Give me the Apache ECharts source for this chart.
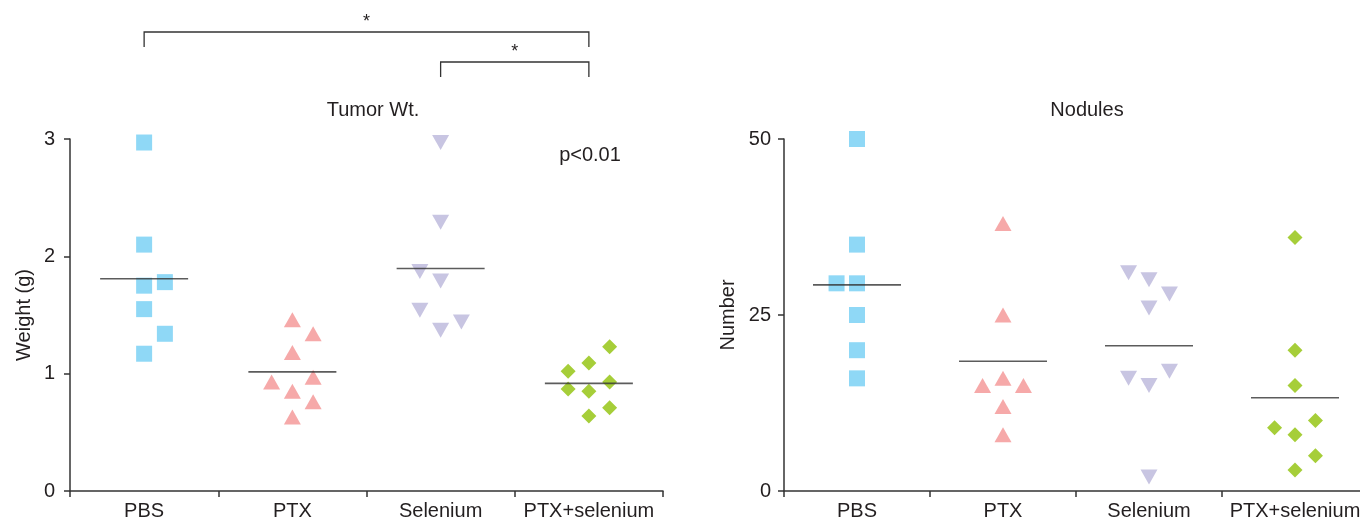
<!DOCTYPE html>
<html>
<head>
<meta charset="utf-8">
<script src="https://cdn.jsdelivr.net/npm/echarts@6/dist/echarts.min.js"></script>
<style>
  html, body { margin: 0; padding: 0; background: #fff; }
  #app { width: 1360px; height: 522px; }
</style>
</head>
<body>
<div id="app"></div>
<script>
// groups on the x axis
const groups = ["PBS", "PTX", "Selenium", "PTX+selenium"];

// [jitter column, value]  -- column -1 / 0 / 1 is the little side shift inside a group
const tumorPBS = [[0, 2.97], [0, 2.10], [0, 1.75], [1, 1.78], [0, 1.55], [1, 1.34], [0, 1.17]];
const tumorPTX = [[0, 1.46], [1, 1.34], [0, 1.18], [-1, 0.93], [1, 0.97], [0, 0.85], [1, 0.76], [0, 0.63]];
const tumorSe = [[0, 2.97], [0, 2.29], [-1, 1.87], [0, 1.79], [-1, 1.54], [1, 1.44], [0, 1.37]];
const tumorCombo = [[1, 1.23], [0, 1.09], [-1, 1.02], [1, 0.93], [-1, 0.87], [0, 0.85], [1, 0.71], [0, 0.64]];

const nodPBS = [[0, 50], [0, 35], [-1, 29.5], [0, 29.5], [0, 25], [0, 20], [0, 16]];
const nodPTX = [[0, 38], [0, 25], [-1, 15], [0, 16], [1, 15], [0, 12], [0, 8]];
const nodSe = [[-1, 31], [0, 30], [1, 28], [0, 26], [-1, 16], [1, 17], [0, 15], [0, 2]];
const nodCombo = [[0, 36], [0, 20], [0, 15], [1, 10], [-1, 9], [0, 8], [1, 5], [0, 3]];

const tumorTicks = [0, 1, 2, 3];
const nodTicks = [0, 25, 50];

const FONT = "Liberation Sans";
const INK = "#231f20";
const JITTER = 0.14;

const markers = [
  { symbol: "rect", size: 16, rotate: 0, color: "#8fd8f6" },
  { symbol: "triangle", size: [17, 15], rotate: 0, color: "#f6a9a9" },
  { symbol: "triangle", size: [17, 15], rotate: 180, color: "#c8c5e2" },
  { symbol: "diamond", size: 15, rotate: 0, color: "#a6ce39" }
];

function mean(arr) {
  return arr.reduce((s, d) => s + d[1], 0) / arr.length;
}

function groupSeries(sets, axisIdx) {
  const out = [];
  const yIdx = axisIdx === 1 ? 0 : 1;
  sets.forEach((set, i) => {
    const m = markers[i];
    out.push({
      type: "scatter",
      xAxisIndex: axisIdx,
      yAxisIndex: yIdx,
      symbol: m.symbol,
      symbolSize: m.size,
      symbolRotate: m.rotate,
      itemStyle: { color: m.color, opacity: 1 },
      data: set.map(d => [i + d[0] * JITTER, d[1]]),
      silent: true,
      z: 2
    });
  });
  // mean bars
  out.push({
    type: "scatter",
    xAxisIndex: axisIdx,
    yAxisIndex: yIdx,
    symbol: "rect",
    symbolSize: [88, 1.6],
    itemStyle: { color: "#333" },
    data: sets.map((set, i) => [i, mean(set)]),
    silent: true,
    z: 3
  });
  return out;
}

function catAxis(grid) {
  return {
    type: "category",
    gridIndex: grid,
    data: groups,
    boundaryGap: true,
    axisLine: { lineStyle: { color: "#333", width: 1.5 } },
    axisTick: { show: true, interval: 0, length: 6, lineStyle: { color: "#333", width: 1.5 } },
    axisLabel: { interval: 0, color: INK, fontFamily: FONT, fontSize: 20, margin: 10 }
  };
}

function hiddenAxis(grid) {
  return { type: "value", gridIndex: grid, min: -0.5, max: 3.5, show: false };
}

function valAxis(grid, ticks, name, gap, margin) {
  return {
    type: "value",
    gridIndex: grid,
    min: ticks[0],
    max: ticks[ticks.length - 1],
    interval: ticks[1] - ticks[0],
    name: name,
    nameLocation: "middle",
    nameGap: gap,
    nameTextStyle: { color: INK, fontFamily: FONT, fontSize: 20 },
    splitLine: { show: false },
    axisLine: { show: true, onZero: false, lineStyle: { color: "#333", width: 1.5 } },
    axisTick: { show: true, length: 6, lineStyle: { color: "#333", width: 1.5 } },
    axisLabel: { color: INK, fontFamily: FONT, fontSize: 20, margin: margin }
  };
}

const chart = echarts.init(document.getElementById("app"), null, { renderer: "canvas" });

chart.setOption({
  animation: false,
  backgroundColor: "#fff",
  textStyle: { fontFamily: FONT },
  title: [
    { text: "Tumor Wt.", left: 368, top: 95, textAlign: "center",
      textStyle: { color: INK, fontFamily: FONT, fontSize: 20, fontWeight: "normal" } },
    { text: "Nodules", left: 1082, top: 95, textAlign: "center",
      textStyle: { color: INK, fontFamily: FONT, fontSize: 20, fontWeight: "normal" } }
  ],
  grid: [
    { left: 70, width: 593, top: 139, bottom: 31, outerBoundsMode: "none" },
    { left: 784, width: 584, top: 139, bottom: 31, outerBoundsMode: "none" }
  ],
  xAxis: [catAxis(0), hiddenAxis(0), catAxis(1), hiddenAxis(1)],
  yAxis: [
    valAxis(0, tumorTicks, "Weight (g)", 36, 15),
    valAxis(1, nodTicks, "Number", 46, 13)
  ],
  series: groupSeries([tumorPBS, tumorPTX, tumorSe, tumorCombo], 1)
    .concat(groupSeries([nodPBS, nodPTX, nodSe, nodCombo], 3))
});

// significance brackets over the tumor weight panel
function bracket(fromIdx, toIdx, top, depth) {
  const x1 = chart.convertToPixel({ xAxisIndex: 1 }, fromIdx);
  const x2 = chart.convertToPixel({ xAxisIndex: 1 }, toIdx);
  return [
    {
      type: "polyline",
      shape: { points: [[x1, top + depth], [x1, top], [x2, top], [x2, top + depth]] },
      style: { stroke: "#333", lineWidth: 1.3, fill: null }
    },
    {
      type: "text",
      x: (x1 + x2) / 2,
      y: top - 1,
      style: { text: "*", fill: INK, font: "18px " + FONT, align: "center", verticalAlign: "bottom" }
    }
  ];
}

chart.setOption({
  graphic: bracket(0, 3, 32, 15).concat(bracket(2, 3, 62, 15)).concat([
    {
      type: "text",
      x: 590,
      y: 155,
      style: { text: "p<0.01", fill: INK, font: "20px " + FONT, align: "center", verticalAlign: "middle" }
    }
  ])
});
</script>
</body>
</html>
